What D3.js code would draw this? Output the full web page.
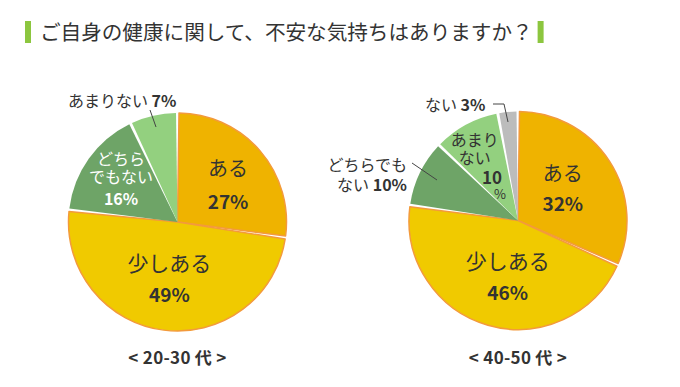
<!DOCTYPE html>
<html>
<head>
<meta charset="utf-8">
<script src="https://cdn.jsdelivr.net/npm/d3@7"></script>
<style>
  body { margin: 0; background: #fff; }
  svg { display: block; font-family: "Noto Sans CJK JP", "Noto Sans", sans-serif; }
</style>
</head>
<body>
<div id="chart"></div>
<script>
const W = 680, H = 387;

const title = "ご自身の健康に関して、不安な気持ちはありますか？";

// 20-30代
const youngLabels = ["ある", "少しある", "どちらでもない", "あまりない"];
const youngValues = [27, 49, 16, 7];
// 40-50代
const olderLabels = ["ある", "少しある", "どちらでもない", "あまりない", "ない"];
const olderValues = [32, 46, 10, 10, 3];

const groupNames = ["< 20-30 代 >", "< 40-50 代 >"];

const colors = {
  "ある": "#efb300",
  "少しある": "#f0ca00",
  "どちらでもない": "#6ea467",
  "あまりない": "#93d07f",
  "ない": "#bcbcbc"
};
const outlined = ["ある", "少しある"];

const svg = d3.select("#chart").append("svg")
  .attr("width", W).attr("height", H);

// title with green bars
svg.append("rect").attr("x", 25).attr("y", 21).attr("width", 6).attr("height", 22).attr("fill", "#8cc63f");
const t = svg.append("text")
  .attr("x", 40).attr("y", 40)
  .attr("font-size", 20.6).attr("fill", "#333")
  .text(title);
const tw = t.node().getComputedTextLength();
svg.append("rect").attr("x", 40 + tw + 5).attr("y", 21).attr("width", 6).attr("height", 22).attr("fill", "#8cc63f");

const R = 109;
const pie = d3.pie().sort(null).value(d => d.v);
const arc = d3.arc().innerRadius(0).outerRadius(R).padAngle(3 / R).padRadius(R);

function drawPie(cx, cy, labels, values, name, labelDefs) {
  const g = svg.append("g").attr("transform", `translate(${cx},${cy})`);
  const data = labels.map((l, i) => ({ l, v: values[i] }));
  const arcs = pie(data);

  g.selectAll("path.slice").data(arcs).enter().append("path")
    .attr("class", "slice")
    .attr("d", arc)
    .attr("fill", d => colors[d.data.l])
    .attr("stroke", d => outlined.includes(d.data.l) ? "#f39a3c" : "none")
    .attr("stroke-width", 1.5)
    .attr("stroke-linejoin", "round");

  arcs.forEach(a => {
    const def = labelDefs[a.data.l];
    if (!def) return;
    let x, y;
    if (def.out) {
      x = def.x - cx; y = def.y - cy;
    } else {
      const mid = (a.startAngle + a.endAngle) / 2 + (def.da || 0);
      const r = R * def.rf;
      x = Math.sin(mid) * r; y = -Math.cos(mid) * r;
    }
    const tx = g.append("text")
      .attr("text-anchor", def.anchor || "middle")
      .attr("fill", def.color || "#333");
    def.lines.forEach((ln, i) => {
      const parts = ln.replace("{v}", a.data.v).split("|");
      const ts = tx.append("tspan")
        .attr("x", x)
        .attr("y", y + def.dy[i]);
      parts.forEach(p => {
        ts.append("tspan")
          .attr("font-size", /\d/.test(p) ? def.numSize : def.size)
          .attr("font-weight", /\d/.test(p) ? 700 : 400)
          .text(p);
      });
    });
    if (def.leader) {
      g.append("path")
        .attr("d", d3.line()(def.leader.map(p => [p[0] - cx, p[1] - cy])))
        .attr("fill", "none").attr("stroke", "#444").attr("stroke-width", 1);
    }
  });

  svg.append("text")
    .attr("x", cx).attr("y", 364)
    .attr("text-anchor", "middle")
    .attr("font-size", 17).attr("font-weight", 700).attr("fill", "#333")
    .attr("letter-spacing", 0.3)
    .text(name);
}

drawPie(177.5, 222, youngLabels, youngValues, groupNames[0], {
  "ある": { rf: 0.58, da: 0.07, lines: ["ある", "{v}%"], dy: [-8, 25], size: 20, numSize: 19 },
  "少しある": { rf: 0.51, da: 0.02, lines: ["少しある", "{v}%"], dy: [-6, 25], size: 21, numSize: 19 },
  "どちらでもない": { rf: 0.65, da: 0.03, lines: ["どちら", "でもない", "{v}%"], dy: [-14, 4, 26], size: 16, numSize: 16, color: "#fff" },
  "あまりない": { out: true, x: 68, y: 107, anchor: "start", lines: ["あまりない |{v}%"], dy: [0], size: 16, numSize: 16,
    leader: [[150, 110], [156, 127]] }
});

drawPie(518, 220.5, olderLabels, olderValues, groupNames[1], {
  "ある": { rf: 0.5, da: -0.03, lines: ["ある", "{v}%"], dy: [-8, 22], size: 20, numSize: 19 },
  "少しある": { rf: 0.53, da: -0.1, lines: ["少しある", "{v}%"], dy: [-8, 23], size: 21, numSize: 19 },
  "どちらでもない": { out: true, x: 407, y: 171, anchor: "end", lines: ["どちらでも", "ない |{v}%"], dy: [0, 20], size: 16, numSize: 16,
    leader: [[412, 163], [437, 180]] },
  "あまりない": { rf: 0.68, da: -0.124, lines: ["あまり", "ない"], dy: [-14, 4], size: 16, numSize: 16 },
  "ない": { out: true, x: 425, y: 111, anchor: "start", lines: ["ない |{v}%"], dy: [0], size: 16, numSize: 16,
    leader: [[493, 104], [504, 104], [508, 122]] }
});

// the narrow "あまりない" slice on the right keeps its value stacked
(function () {
  const g = svg.append("g");
  const v = olderValues[3];
  g.append("text").attr("x", 492).attr("y", 184).attr("text-anchor", "middle")
    .attr("font-size", 17).attr("font-weight", 700).attr("fill", "#333").text(v);
  g.append("text").attr("x", 500).attr("y", 199).attr("text-anchor", "middle")
    .attr("font-size", 13).attr("fill", "#333").text("%");
})();
</script>
</body>
</html>
